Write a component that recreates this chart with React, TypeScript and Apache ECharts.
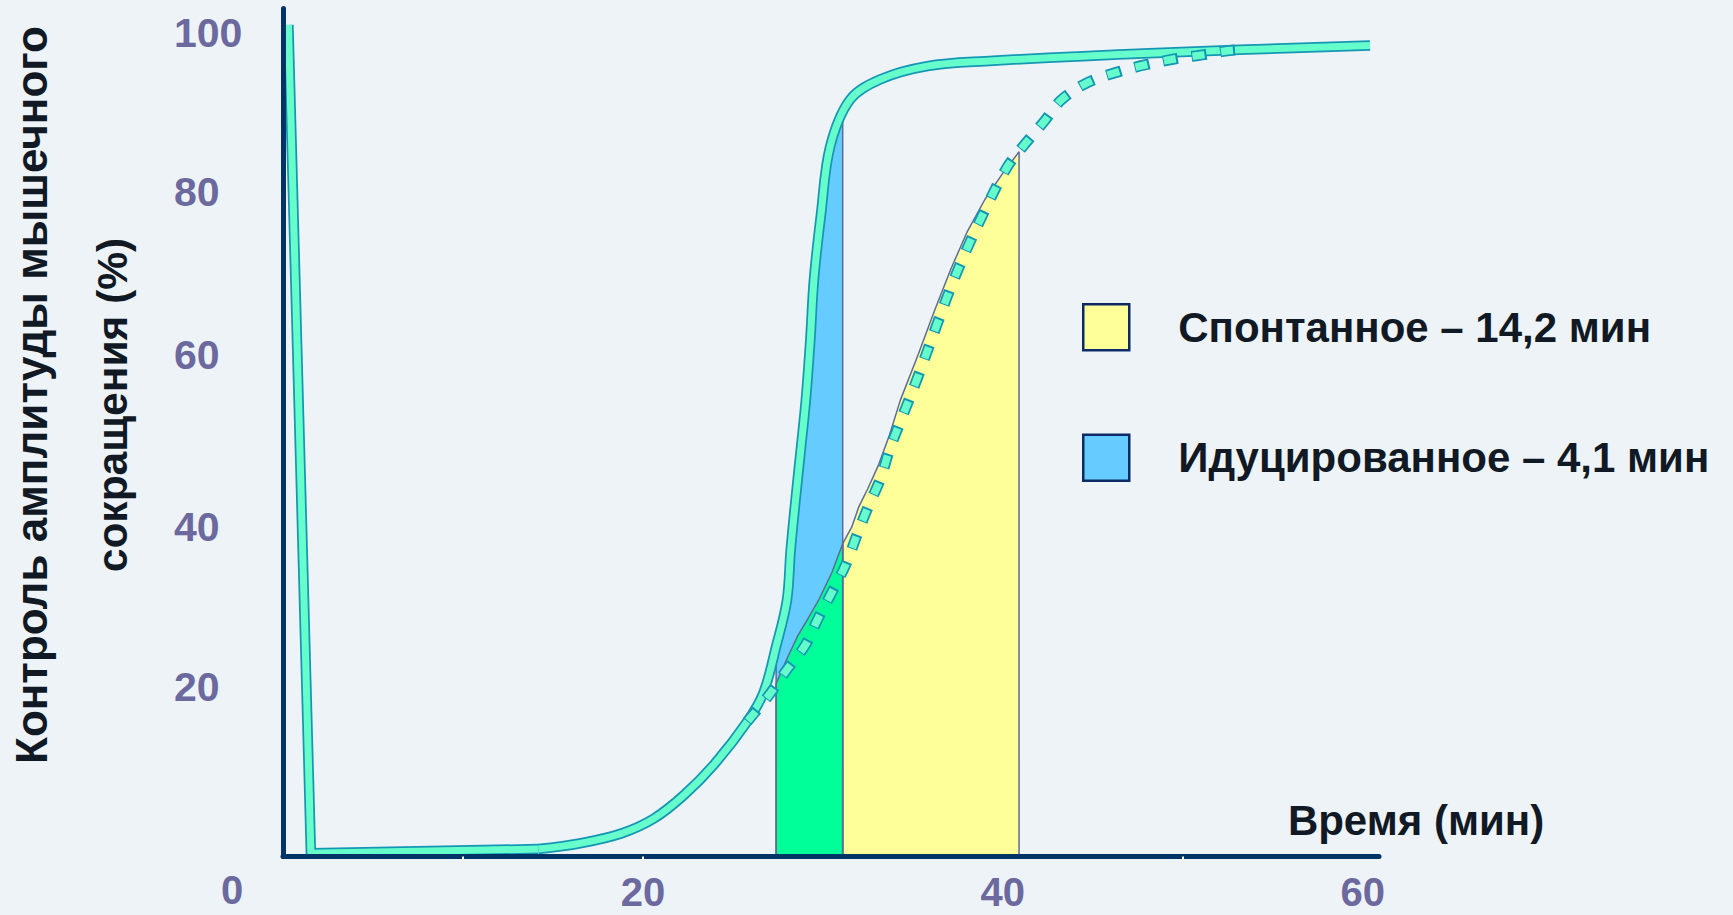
import React, { useEffect, useRef } from 'react';
import * as echarts from 'echarts';

// ---- data (x: minutes, y: % of control amplitude) ----
const xTickLabels = [20, 40, 60];
const xTickMarks = [10, 20, 50];

const solidDrop = [[0.3, 101], [1.55, 0.4], [14.2, 0.9]];
const solidRise = [
  [14.2, 0.9], [16.5, 1.6], [18.8, 2.8], [20.6, 4.6], [22.3, 7.5], [24.0, 11.3],
  [25.8, 16.4], [26.7, 19.9], [27.4, 25.5], [28.0, 31.1], [28.21, 37.2], [28.48, 43.3],
  [28.77, 49.4], [29.05, 55.4], [29.3, 62.7], [29.5, 70.0], [29.9, 78.1], [30.4, 86.2],
  [31.5, 91.9], [33.2, 94.4], [35.8, 96.0], [39.0, 96.6], [48.5, 97.6], [60.4, 98.5],
];
const dashedCurve = [
  [25.8, 16.4], [27.0, 19.6], [28.0, 22.7], [29.0, 25.6], [29.75, 29.0], [30.55, 32.3],
  [31.3, 35.6], [31.9, 39.1], [32.5, 42.4], [33.2, 45.9], [33.7, 49.4], [34.3, 52.8],
  [35.3, 58.4], [36.2, 63.8], [37.1, 69.1], [38.0, 73.8], [39.0, 78.5], [40.2, 83.6],
  [41.1, 86.2], [42.3, 89.3], [43.25, 91.9], [44.7, 94.0], [46.4, 95.3], [48.0, 96.2],
  [49.6, 96.9], [51.2, 97.4], [52.6, 97.9], [53.3, 98.0],
];
const blueArea = [
  [27.4, 0], [27.4, 25.5], [28.0, 31.1], [28.21, 37.2], [28.48, 43.3], [28.77, 49.4],
  [29.05, 55.4], [29.3, 62.7], [29.5, 70.0], [29.9, 78.1], [30.4, 86.2], [30.8, 88.6],
  [31.1, 89.8], [31.1, 0],
];
const greenArea = [
  [27.4, 0], [27.4, 21.0], [28.0, 24.0], [28.6, 26.8], [29.2, 29.0], [29.8, 31.3],
  [30.5, 34.5], [31.1, 38.0], [31.1, 0],
];
const yellowArea = [
  [31.1, 0], [31.1, 38.0], [31.6, 40.0], [32.0, 42.5], [32.5, 44.7], [33.1, 47.6],
  [33.7, 51.2], [34.3, 55.4], [35.3, 61.0], [36.2, 66.3], [37.1, 71.3], [38.0, 75.8],
  [39.0, 79.8], [40.0, 83.0], [40.9, 85.6], [40.9, 0],
];

const spontName = 'Спонтанное – 14,2 мин';
const inducedName = 'Идуцированное – 4,1 мин';

const FONT = "'Liberation Sans', Arial, sans-serif";
const BG = '#eef3f8';
const NAVY = '#003366';
const LABEL = '#6b699e';
const TEXT = '#111a24';
const MINT = '#66ffcc';
const TEAL = '#1597b4';
const OUTLINE = '#5f6b97';

// small vertical nudges (px) of the y tick labels, as placed in the original slide
const yLabelRich: Record<string, any> = {
  s20: { padding: [0, 0, 10, 0] },
  s40: { padding: [0, 0, 0, 0] },
  s60: { padding: [0, 0, 16, 0] },
  s80: { padding: [0, 0, 11, 0] },
  s100: { padding: [0, 0, 0, 0] },
};

export default function App() {
  const ref = useRef<HTMLDivElement>(null);

  useEffect(() => {
    document.body.style.margin = '0';
    document.body.style.background = BG;
    const chart = echarts.init(ref.current!, null, { renderer: 'svg' });

    const areaSeries = (name: string, data: number[][], fill: string) => ({
      type: 'line',
      name,
      data,
      smooth: false,
      showSymbol: false,
      symbol: 'none',
      silent: true,
      itemStyle: { color: fill },
      lineStyle: { color: OUTLINE, width: 1.5 },
      areaStyle: { color: fill, opacity: 1 },
    });

    const tube = (name: string, data: number[][], smooth: number, w: number, color: string, dash?: any) => ({
      type: 'line',
      name,
      data,
      smooth,
      showSymbol: false,
      symbol: 'none',
      silent: true,
      lineStyle: {
        color,
        width: w,
        cap: 'butt',
        join: 'round',
        ...(dash ? { type: dash.type, dashOffset: dash.offset } : {}),
      },
    });

    const richFor = (base: any) => {
      const out: Record<string, any> = {};
      Object.keys(yLabelRich).forEach((k) => {
        out[k] = { ...base, ...yLabelRich[k] };
      });
      return out;
    };
    const yLabelBase = { color: LABEL, fontSize: 41, fontWeight: 'bold', fontFamily: FONT };

    chart.setOption({
      animation: false,
      backgroundColor: BG,
      grid: { left: 283, right: 354, top: 8.5, bottom: 58.5, containLabel: false },
      xAxis: {
        type: 'value',
        min: 0,
        max: 60.9,
        interval: 10,
        z: 10,
        axisLine: { show: true, onZero: false, lineStyle: { color: NAVY, width: 5 } },
        axisTick: {
          show: true,
          customValues: xTickMarks,
          length: 3,
          lineStyle: { color: '#ffffff', width: 2 },
        },
        axisLabel: {
          formatter: (v: number) => (xTickLabels.includes(v) ? String(v) : ''),
          color: LABEL,
          fontSize: 40,
          fontWeight: 'bold',
          fontFamily: FONT,
          lineHeight: 34,
          margin: 18,
        },
        splitLine: { show: false },
      },
      yAxis: {
        type: 'value',
        min: 0,
        max: 103,
        interval: 20,
        z: 10,
        axisLine: { show: true, lineStyle: { color: NAVY, width: 5 } },
        axisTick: { show: false },
        axisLabel: {
          formatter: (v: number) => (v === 0 ? '' : `{s${v}|${v}}`),
          ...yLabelBase,
          rich: richFor(yLabelBase),
          align: 'left',
          margin: 109,
        },
        splitLine: { show: false },
      },
      legend: {
        orient: 'vertical',
        left: 1082,
        top: 303,
        padding: 0,
        itemWidth: 46,
        itemHeight: 46,
        itemGap: 82,
        icon: 'rect',
        selectedMode: false,
        textStyle: {
          fontSize: 42,
          fontWeight: 'bold',
          color: TEXT,
          fontFamily: FONT,
          lineHeight: 46,
          padding: [0, 0, 0, 44],
        },
        data: [
          {
            name: spontName,
            itemStyle: { color: '#ffff99', borderColor: '#0b2a66', borderWidth: 2.5 },
            textStyle: { lineHeight: 36, padding: [0, 0, 10, 44] },
          },
          {
            name: inducedName,
            itemStyle: { color: '#66ccff', borderColor: '#0b2a66', borderWidth: 2.5 },
          },
        ],
      },
      graphic: [
        {
          type: 'text', x: 232, y: 890, silent: true,
          style: { text: '0', fill: LABEL, font: `bold 40px ${FONT}`, textAlign: 'center', textVerticalAlign: 'middle', align: 'center', verticalAlign: 'middle' },
        },
        {
          type: 'text', x: 1416, y: 820, silent: true,
          style: { text: 'Время (мин)', fill: TEXT, font: `bold 42px ${FONT}`, textAlign: 'center', textVerticalAlign: 'middle', align: 'center', verticalAlign: 'middle' },
        },
        {
          type: 'text', x: 31, y: 395, rotation: Math.PI / 2, silent: true,
          style: { text: 'Контроль амплитуды мышечного', fill: TEXT, font: `bold 44px ${FONT}`, textAlign: 'center', textVerticalAlign: 'middle', align: 'center', verticalAlign: 'middle' },
        },
        {
          type: 'text', x: 112, y: 405, rotation: Math.PI / 2, silent: true,
          style: { text: 'сокращения (%)', fill: TEXT, font: `bold 42.5px ${FONT}`, textAlign: 'center', textVerticalAlign: 'middle', align: 'center', verticalAlign: 'middle' },
        },
      ],
      series: [
        areaSeries(inducedName, blueArea, '#66ccff'),
        areaSeries('green', greenArea, '#00ff99'),
        areaSeries(spontName, yellowArea, '#ffff99'),
        tube('solidDropOuter', solidDrop, 0, 10.5, TEAL),
        tube('solidDropInner', solidDrop, 0, 7, MINT),
        tube('solidRiseOuter', solidRise, 0.35, 10.5, TEAL),
        tube('solidRiseInner', solidRise, 0.35, 7, MINT),
        tube('dashOuter', dashedCurve, 0.35, 11, TEAL, { type: [15, 14], offset: 0 }),
        tube('dashInner', dashedCurve, 0.35, 7.5, MINT, { type: [12, 17], offset: -1.5 }),
      ],
    });

    return () => chart.dispose();
  }, []);

  return (
    <div
      ref={ref}
      style={{ position: 'fixed', left: 0, top: 0, width: 1733, height: 915, background: BG }}
    />
  );
}
